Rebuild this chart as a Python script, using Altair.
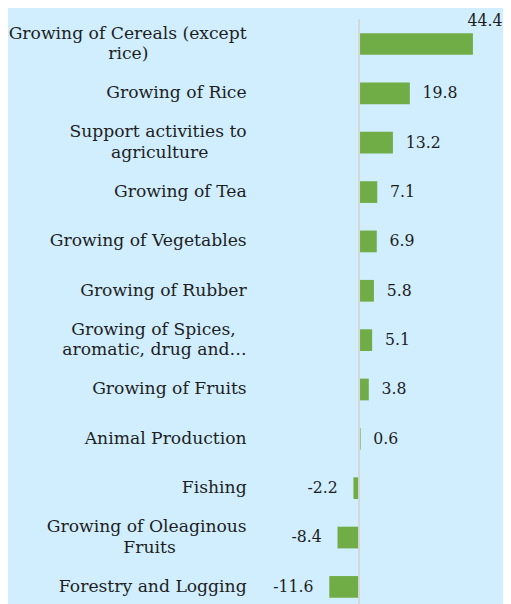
import altair as alt
import pandas as pd

NB = "\u00a0"   # non-breaking space, used to centre the short line of a wrapped label
END = "\u200b"  # zero-width end marker so the padding is kept

# Category labels ("|" marks a line break), top to bottom
categories = [
    "Growing of Cereals (except|rice)" + NB * 18 + END,
    "Growing of Rice",
    "Support activities to|agriculture" + NB * 7 + END,
    "Growing of Tea",
    "Growing of Vegetables",
    "Growing of Rubber",
    "Growing of Spices," + NB * 2 + END + "|aromatic, drug and\u2026",
    "Growing of Fruits",
    "Animal Production",
    "Fishing",
    "Growing of Oleaginous|Fruits" + NB * 13 + END,
    "Forestry and Logging",
]
values = [44.4, 19.8, 13.2, 7.1, 6.9, 5.8, 5.1, 3.8, 0.6, -2.2, -8.4, -11.6]
zero_line = [0]

df = pd.DataFrame({"category": categories, "value": values})
df_zero = pd.DataFrame({"zero": zero_line})

FONT = "DejaVu Serif"
TXT = "#1e1e1e"

y = alt.Y(
    "category:N",
    sort=categories,
    scale=alt.Scale(paddingInner=0.56, paddingOuter=0.28),
    axis=None,
)
xscale = alt.Scale(domain=[-40, 50])
x = alt.X("value:Q", scale=xscale, axis=None)

base = alt.Chart(df).encode(y=y)

bars = base.mark_bar(color="#70ad47").encode(x=x)

lab = dict(align="right", baseline="middle", font=FONT, fontSize=17.5, color=TXT,
           lineBreak="|", lineHeight=21, dx=-10)

cat_single = (
    base.transform_filter("indexof(datum.category, '|') < 0")
    .mark_text(**lab)
    .encode(x=alt.value(0), text="category:N")
)
cat_multi = (
    base.transform_filter("indexof(datum.category, '|') >= 0")
    .mark_text(dy=-10.5, **lab)
    .encode(x=alt.value(0), text="category:N")
)

rule = alt.Chart(df_zero).mark_rule(color="#d6d6d6", strokeWidth=2).encode(
    x=alt.X("zero:Q", scale=xscale, axis=None)
)

txt = dict(font=FONT, fontSize=16, color=TXT, baseline="middle")

pos = (
    base.transform_filter("datum.value >= 0 && datum.value < 40")
    .mark_text(align="left", dx=13, **txt)
    .encode(x=x, text="value:N")
)
neg = (
    base.transform_filter("datum.value < 0")
    .mark_text(align="right", dx=-16, **txt)
    .encode(x=x, text="value:N")
)
top = (
    base.transform_filter("datum.value >= 40")
    .mark_text(align="right", dx=30, dy=-23, **txt)
    .encode(x=x, text="value:N")
)

chart = (
    alt.layer(bars, rule, cat_single, cat_multi, pos, neg, top)
    .properties(
        width=235,
        height=603,
        background="#d0eefe",
        padding={"left": 0, "top": 0, "right": 0, "bottom": 0},
    )
    .configure_view(stroke=None)
)

chart.save("out.html", embed_options={"renderer": "svg", "actions": False})
